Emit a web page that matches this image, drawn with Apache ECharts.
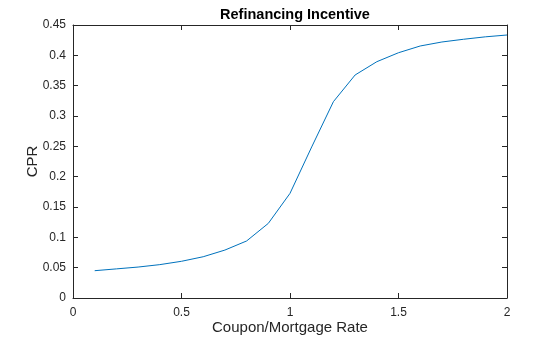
<!DOCTYPE html>
<html>
<head>
<meta charset="utf-8">
<script src="https://cdn.jsdelivr.net/npm/echarts@6/dist/echarts.min.js"></script>
<style>html,body{margin:0;padding:0;background:#fff}#c{width:560px;height:337px}</style>
</head>
<body>
<div id="c"></div>
<script>
const xValues = [0.1,0.2,0.3,0.4,0.5,0.6,0.7,0.8,0.9,1.0,1.1,1.2,1.3,1.4,1.5,1.6,1.7,1.8,1.9,2.0];
const cprValues = [0.045,0.048,0.051,0.055,0.0605,0.068,0.079,0.094,0.123,0.1725,0.249,0.3236,0.3676,0.3895,0.4043,0.4154,0.422,0.4265,0.4305,0.4335];
const titleText = 'Refinancing Incentive';
const xName = 'Coupon/Mortgage Rate';
const yName = 'CPR';

const font = 'Liberation Sans, Arial, Helvetica, sans-serif';
const axisColor = '#262626';
const chart = echarts.init(document.getElementById('c'), null, {renderer:'canvas'});
const baseAxis = {
  axisLine:{show:true,onZero:false,lineStyle:{color:axisColor,width:1}},
  axisTick:{show:true,inside:true,length:5,lineStyle:{color:axisColor,width:1}},
  splitLine:{show:false},
  axisLabel:{color:axisColor,fontFamily:font,fontSize:12}
};
chart.setOption({
  animation:false,
  backgroundColor:'#fff',
  title:{text:titleText,left:290,top:2,textAlign:'center',textStyle:{fontFamily:font,fontSize:14.5,fontWeight:'bold',color:'#000'}},
  grid:{left:73,right:53,top:25,bottom:39,containLabel:false,outerBoundsMode:'none'},
  xAxis:[
    Object.assign({},baseAxis,{type:'value',min:0,max:2,interval:0.5,position:'bottom',
      name:xName,nameLocation:'middle',nameGap:22,nameMoveOverlap:false,nameTextStyle:{fontFamily:font,fontSize:15,color:axisColor},
      axisLabel:Object.assign({},baseAxis.axisLabel,{margin:9})}),
    Object.assign({},baseAxis,{type:'value',min:0,max:2,interval:0.5,position:'top',axisLabel:{show:false}})
  ],
  yAxis:[
    Object.assign({},baseAxis,{type:'value',min:0,max:0.45,interval:0.05,position:'left',
      name:yName,nameLocation:'middle',nameGap:33,nameMoveOverlap:false,nameTextStyle:{fontFamily:font,fontSize:15,color:axisColor},
      axisLabel:Object.assign({},baseAxis.axisLabel,{margin:7})}),
    Object.assign({},baseAxis,{type:'value',min:0,max:0.45,interval:0.05,position:'right',axisLabel:{show:false}})
  ],
  series:[{
    type:'line',
    xAxisIndex:0,yAxisIndex:0,
    data:xValues.map((x,i)=>[x,cprValues[i]]),
    showSymbol:false,
    lineStyle:{color:'#0072BD',width:1},
    itemStyle:{color:'#0072BD'}
  }]
});
</script>
</body>
</html>
